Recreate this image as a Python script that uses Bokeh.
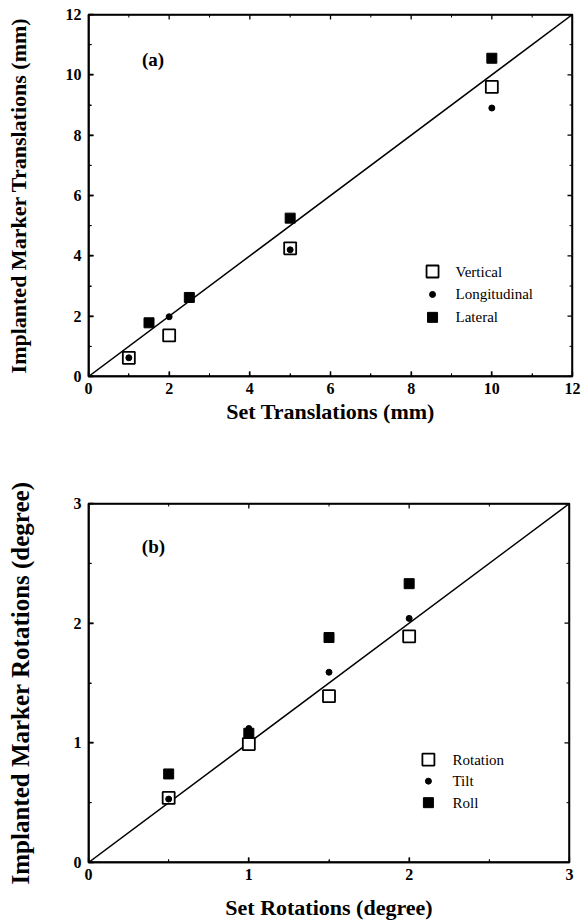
import numpy as np
from bokeh.plotting import figure
from bokeh.models import Range1d, SingleIntervalTicker
from bokeh.core.properties import value
from bokeh.layouts import column
from bokeh.embed import file_html
from bokeh.resources import INLINE

# ---------------- data (a) translations ----------------
trans_limits = [0, 12]
trans_tick_interval = 2
trans_set_vertical = [1, 2, 5, 10]
trans_vertical = [0.62, 1.36, 4.25, 9.6]
trans_set_longitudinal = [1, 2, 5, 10]
trans_longitudinal = [0.62, 1.98, 4.2, 8.9]
trans_set_lateral = [1.5, 2.5, 5, 10]
trans_lateral = [1.78, 2.62, 5.25, 10.55]
trans_series = ["Vertical", "Longitudinal", "Lateral"]

# ---------------- data (b) rotations ----------------
rot_limits = [0, 3]
rot_tick_interval = 1
rot_set = [0.5, 1, 1.5, 2]
rot_rotation = [0.54, 0.99, 1.39, 1.89]
rot_tilt = [0.53, 1.12, 1.59, 2.04]
rot_roll = [0.74, 1.08, 1.88, 2.33]
rot_series = ["Rotation", "Tilt", "Roll"]

SERIF = "Liberation Serif"

OPEN_SQ = dict(marker="square", size=12, fill_color="white", line_color="black", line_width=1.8)
DOT = dict(marker="circle", size=6, fill_color="black", line_color="black")
FILL_SQ = dict(marker="square", size=10, fill_color="black", line_color="black")


def style(p, limits, interval, xlabel, ylabel, xstand, ystand, ysize):
    p.xgrid.grid_line_color = "white"
    p.ygrid.grid_line_color = "white"
    p.outline_line_color = "black"
    p.outline_line_width = 1.5
    for ax in (p.xaxis[0], p.yaxis[0]):
        ax.ticker = SingleIntervalTicker(interval=interval, num_minor_ticks=2)
        ax.axis_line_color = "black"
        ax.axis_line_width = 1.5
        ax.major_tick_line_color = "black"
        ax.minor_tick_line_color = "black"
        ax.major_tick_line_width = 1.3
        ax.minor_tick_line_width = 1.0
        ax.major_tick_in = 5
        ax.major_tick_out = 0
        ax.minor_tick_in = 3
        ax.minor_tick_out = 0
        ax.major_label_text_font = SERIF
        ax.major_label_text_font_style = "bold"
        ax.major_label_text_font_size = "16px"
        ax.major_label_text_color = "black"
        ax.axis_label_text_font = SERIF
        ax.axis_label_text_font_style = "bold"
        ax.axis_label_text_color = "black"
    p.xaxis[0].axis_label = xlabel
    p.yaxis[0].axis_label = ylabel
    p.xaxis[0].axis_label_text_font_size = "22px"
    p.yaxis[0].axis_label_text_font_size = ysize
    p.xaxis[0].major_label_standoff = 6
    p.yaxis[0].major_label_standoff = 7
    p.xaxis[0].axis_label_standoff = xstand
    p.yaxis[0].axis_label_standoff = ystand


def edges(p, limits, interval):
    lo, hi = limits
    # frame box as glyph segments (outer half clipped by the frame)
    p.segment(x0=[lo, lo, lo, hi], y0=[lo, hi, lo, lo],
              x1=[hi, hi, lo, hi], y1=[lo, hi, hi, hi],
              line_color="black", line_width=2.5)
    # inward ticks on all four edges
    majors = np.arange(lo, hi + interval / 2, interval)
    minors = majors[:-1] + interval / 2
    for ticks, ln, lw in ((majors, 5, 1.3), (minors, 3, 1.0)):
        kw = dict(length=ln, length_units="screen", line_color="black", line_width=lw)
        p.ray(x=ticks, y=lo, angle=np.pi / 2, **kw)
        p.ray(x=ticks, y=hi, angle=-np.pi / 2, **kw)
        p.ray(x=lo, y=ticks, angle=0.0, **kw)
        p.ray(x=hi, y=ticks, angle=np.pi, **kw)


def key(p, names, sym_x, txt_x, rows_y):
    for (name, st, y) in zip(names, (OPEN_SQ, DOT, FILL_SQ), rows_y):
        p.scatter([sym_x], [y], **st)
    p.text(x=[txt_x] * len(names), y=rows_y, text=names,
           text_font=value(SERIF), text_font_size="15px", text_color="black",
           text_align="left", text_baseline="middle")


def tag(p, x, y, t):
    p.text(x=[x], y=[y], text=[t], text_font=value(SERIF), text_font_style="bold",
           text_font_size="19px", text_color="black",
           text_align="center", text_baseline="middle")


# ---------------- figure (a) ----------------
p1 = figure(width=582, height=431,
            x_range=Range1d(*trans_limits), y_range=Range1d(*trans_limits),
            output_backend="svg", toolbar_location=None,
            min_border_left=88, min_border_right=10,
            min_border_top=14, min_border_bottom=55)
style(p1, trans_limits, trans_tick_interval,
      "Set Translations (mm)", "Implanted Marker Translations (mm)", 2, 32, "22px")
edges(p1, trans_limits, trans_tick_interval)
p1.segment(x0=[trans_limits[0]], y0=[trans_limits[0]],
           x1=[trans_limits[1]], y1=[trans_limits[1]],
           line_color="black", line_width=1.5)
p1.scatter(trans_set_lateral, trans_lateral, **FILL_SQ)
p1.scatter(trans_set_vertical, trans_vertical, **OPEN_SQ)
p1.scatter(trans_set_longitudinal, trans_longitudinal, **DOT)
key(p1, trans_series, 8.53, 9.1, [3.48, 2.72, 1.96])
tag(p1, 1.6, 10.5, "(a)")

# ---------------- figure (b) ----------------
p2 = figure(width=579, height=491,
            x_range=Range1d(*rot_limits), y_range=Range1d(*rot_limits),
            output_backend="svg", toolbar_location=None,
            min_border_left=84, min_border_right=10,
            min_border_top=72, min_border_bottom=58)
style(p2, rot_limits, rot_tick_interval,
      "Set Rotations (degree)", "Implanted Marker Rotations (degree)", 12, 37, "25px")
edges(p2, rot_limits, rot_tick_interval)
p2.segment(x0=[rot_limits[0]], y0=[rot_limits[0]],
           x1=[rot_limits[1]], y1=[rot_limits[1]],
           line_color="black", line_width=1.5)
p2.scatter(rot_set, rot_roll, **FILL_SQ)
p2.scatter(rot_set, rot_rotation, **OPEN_SQ)
p2.scatter(rot_set, rot_tilt, **DOT)
key(p2, rot_series, 2.12, 2.27, [0.86, 0.68, 0.50])
tag(p2, 0.405, 2.64, "(b)")

layout = column(p1, p2, spacing=0)
open("out.html", "w").write(file_html(layout, INLINE))
